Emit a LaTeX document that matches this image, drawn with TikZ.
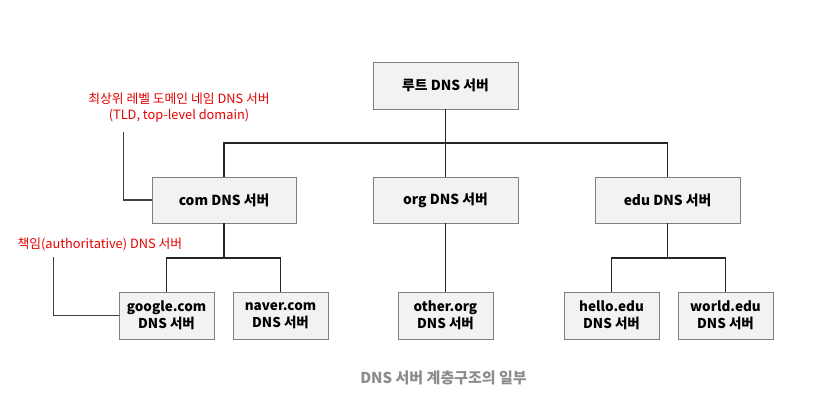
\documentclass[tikz,border=0pt]{standalone}
\usepackage{fontspec}
\setmainfont{Noto Sans CJK KR}
\begin{document}
\begin{tikzpicture}[x=1pt,y=-1pt,
  srv/.style={draw=black!50, fill=black!5, line width=0.9pt, font=\fontsize{13.8}{16}\selectfont\bfseries, align=center, inner sep=0pt},
  srvtwo/.style={srv, font=\fontsize{13.5}{16.5}\selectfont\bfseries, minimum width=95pt, minimum height=47pt},
  tree/.style={line width=1.3pt, black!85},
  note/.style={red!90!black, font=\fontsize{12.8}{16}\selectfont, align=center},
  lead/.style={line width=1.3pt, black!75}]
\useasboundingbox (0,0) rectangle (814,401);
\fill[white] (0,0) rectangle (814,401);
% boxes
\node[srv, minimum width=145pt, minimum height=47pt] (root) at (445.5,85.5) {루트 DNS 서버};
\node[srv, minimum width=144pt, minimum height=46pt] (com) at (224,200) {com DNS 서버};
\node[srv, minimum width=145pt, minimum height=46pt] (org) at (445.5,200) {org DNS 서버};
\node[srv, minimum width=145pt, minimum height=46pt] (edu) at (667.5,200) {edu DNS 서버};
\node[srvtwo] (google) at (166.5,315.5) {google.com\\DNS 서버};
\node[srvtwo] (naver) at (280.5,315.5) {naver.com\\DNS 서버};
\node[srvtwo] (other) at (445.5,315.5) {other.org\\DNS 서버};
\node[srvtwo] (hello) at (611.5,315.5) {hello.edu\\DNS 서버};
\node[srvtwo] (world) at (725.5,315.5) {world.edu\\DNS 서버};
% junctions
\coordinate (j1) at (445.5,143);
\coordinate (j2) at (224,258);
\coordinate (j3) at (667.5,258);
% tree
\draw[tree] (root.south) -- (j1);
\draw[tree] (com.north) |- (j1) -| (edu.north);
\draw[tree] (j1) -- (org.north);
\draw[tree] (com.south) -- (j2);
\draw[tree] (google.north) |- (j2) -| (naver.north);
\draw[tree] (org.south) -- (other.north);
\draw[tree] (edu.south) -- (j3);
\draw[tree] (hello.north) |- (j3) -| (world.north);
% annotations
\node[note] (tld) at (179,108) {최상위 레벨 도메인 네임 DNS 서버\\(TLD, top-level domain)};
\node[note, anchor=west] (auth) at (14,244) {책임(authoritative) DNS 서버};
\coordinate (t0) at (123.5,132);
\coordinate (a0) at (53.5,257);
\draw[lead] (t0) |- (com.west);
\draw[lead] (a0) |- (google.west);
% caption
\node[black!45, font=\fontsize{15}{18}\selectfont\bfseries] (cap) at (443.5,378) {DNS 서버 계층구조의 일부};
\end{tikzpicture}
\end{document}
